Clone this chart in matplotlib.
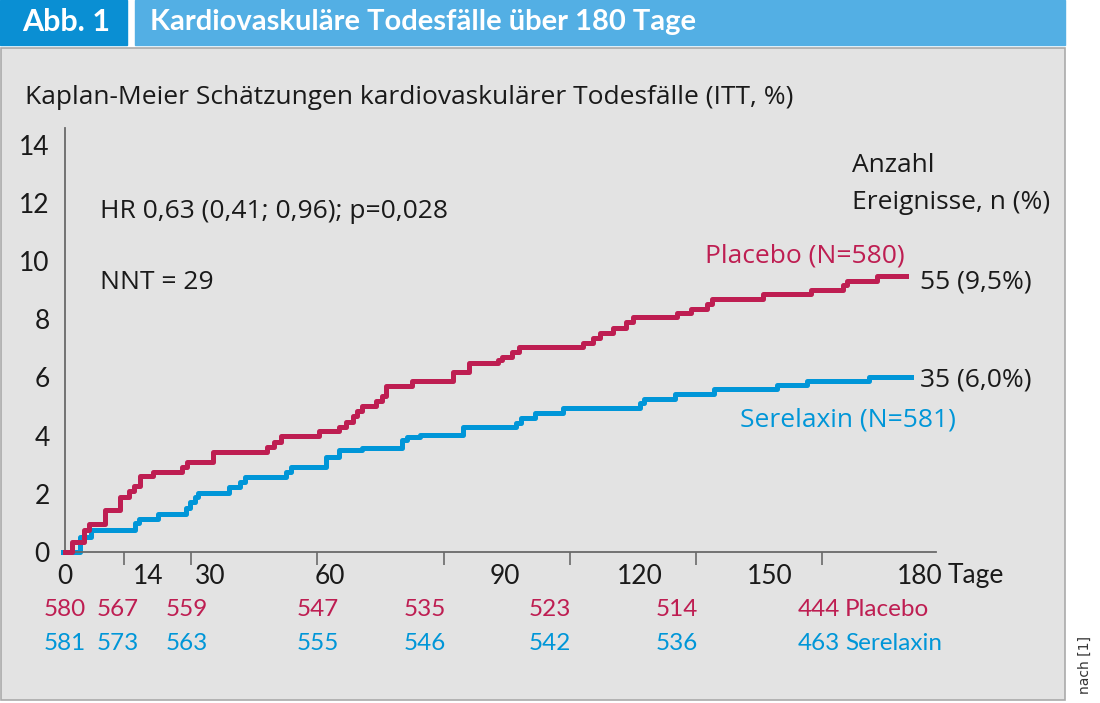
import matplotlib.pyplot as plt
from matplotlib.patches import Rectangle

plt.rcParams['font.family'] = ['Lato', 'DejaVu Sans']

RED = '#BE1E52'
BLUE = '#0096D8'
PANEL = '#E3E3E3'
INK = '#1A1A1A'
BODY = ['Open Sans', 'DejaVu Sans']
BODY_SIZE = 19
W, H = 1100, 703

# Kaplan-Meier estimates, cumulative CV deaths in % (day of event, value after the step)
placebo_days = [0, 1.6, 4.5, 5.8, 9.5, 13.0, 15.3, 16.4, 17.8, 21.0, 27.9, 29.0, 35.2,
                48.0, 49.7, 51.3, 60.4, 65.2, 66.9, 68.4, 69.5, 70.5, 73.9, 75.3, 76.3,
                82.4, 92.3, 96.1, 103.0, 103.8, 106.2, 108.0, 123.2, 125.4, 127.1, 130.3,
                133.3, 134.9, 145.4, 148.7, 152.5, 153.7, 165.8, 177.4, 185.0, 185.8, 192.9]
placebo_pct = [0, 0.32, 0.75, 0.96, 1.42, 1.88, 2.10, 2.26, 2.61, 2.74, 2.91, 3.09, 3.43,
               3.61, 3.78, 3.98, 4.15, 4.28, 4.48, 4.67, 4.84, 5.02, 5.20, 5.36, 5.70,
               5.89, 6.20, 6.49, 6.60, 6.71, 6.88, 7.06, 7.19, 7.37, 7.54, 7.69,
               7.90, 8.07, 8.21, 8.34, 8.52, 8.69, 8.86, 9.01, 9.18, 9.33, 9.50]
placebo_last_day = 199.8

serelaxin_days = [-0.5, 3.6, 6.2, 16.6, 17.6, 22.2, 28.8, 29.6, 30.8, 31.7, 39.0, 41.6, 42.8,
                  52.6, 53.6, 62.1, 65.2, 70.5, 80.0, 81.2, 84.4, 94.5, 107.2, 108.3, 111.7,
                  118.3, 136.6, 137.6, 145.0, 154.2, 169.1, 176.3, 191.1]
serelaxin_pct = [0, 0.50, 0.76, 0.98, 1.14, 1.31, 1.51, 1.70, 1.88, 2.02, 2.22, 2.41, 2.56,
                 2.75, 2.93, 3.26, 3.50, 3.56, 3.85, 3.96, 4.02, 4.28, 4.42, 4.61, 4.78,
                 4.96, 5.11, 5.25, 5.42, 5.59, 5.74, 5.89, 6.00]
serelaxin_last_day = 201.0

tick_days = [14, 30, 60, 90, 120, 150, 180]
day_labels = ['0', '14', '30', '60', '90', '120', '150', '180']
y_ticks = [0, 2, 4, 6, 8, 10, 12, 14]

risk_placebo = [580, 567, 559, 547, 535, 523, 514, 444]
risk_serelaxin = [581, 573, 563, 555, 546, 542, 536, 463]

# layout (pixel positions of the free text in the picture)
day_label_px = [65, 148, 210, 330, 505, 640, 770, 920]
risk_px = [65, 118, 187, 318, 425, 550, 677, 819]


def fx(x):
    return x / W


def fy(y):
    return 1 - y / H


def body(x, y, s, color=INK, ha='left'):
    fig.text(fx(x), fy(y), s, fontsize=BODY_SIZE, ha=ha, va='center', color=color,
             family=BODY)


fig = plt.figure(figsize=(W / 100, H / 100), dpi=100)
fig.patch.set_facecolor('white')

# header boxes and grey panel
fig.add_artist(Rectangle((fx(0), fy(45)), fx(127), 45 / H, color='#0A8FD3',
                         transform=fig.transFigure, zorder=0))
fig.add_artist(Rectangle((fx(135), fy(45)), fx(930), 45 / H, color='#53AFE4',
                         transform=fig.transFigure, zorder=0))
fig.add_artist(Rectangle((fx(1), fy(700)), fx(1064), 652 / H, facecolor=PANEL,
                         edgecolor='#AAAAAA', linewidth=1.2,
                         transform=fig.transFigure, zorder=0))
fig.text(fx(66), fy(22), 'Abb. 1', color='white', fontsize=22, fontweight='bold',
         ha='center', va='center')
fig.text(fx(150), fy(22), 'Kardiovaskuläre Todesfälle über 180 Tage', color='white',
         fontsize=21, fontweight='bold', ha='left', va='center')

ax = fig.add_axes([fx(65), fy(551.7), fx(871), (551.7 - 128) / H])
ax.patch.set_alpha(0)

ax.step(placebo_days + [placebo_last_day], placebo_pct + [placebo_pct[-1]],
        where='post', color=RED, linewidth=3.6, clip_on=False, zorder=3)
ax.step(serelaxin_days + [serelaxin_last_day], serelaxin_pct + [serelaxin_pct[-1]],
        where='post', color=BLUE, linewidth=3.6, clip_on=False, zorder=2)

ax.set_xlim(0, 207)
ax.set_ylim(0, (551.7 - 128) / 29.05)
for s in ['top', 'right']:
    ax.spines[s].set_visible(False)
for s in ['left', 'bottom']:
    ax.spines[s].set_color('#6A6A6A')
    ax.spines[s].set_linewidth(1.3)

ax.set_xticks(tick_days)
ax.set_xticklabels([])
ax.tick_params(axis='x', direction='out', length=9, width=1.2, color='#6A6A6A')
ax.set_yticks(y_ticks)
ax.set_yticklabels([str(v) for v in y_ticks], fontsize=19, color=INK)
ax.tick_params(axis='y', length=0, pad=11)

# day labels and numbers at risk
for lab, px in zip(day_labels, day_label_px):
    fig.text(fx(px), fy(576), lab, fontsize=19, ha='center', va='center', color=INK)
fig.text(fx(948), fy(576), 'Tage', fontsize=19, ha='left', va='center', color=INK)

for n_p, n_s, px in zip(risk_placebo, risk_serelaxin, risk_px):
    fig.text(fx(px), fy(610), str(n_p), fontsize=17.5, ha='center', va='center', color=RED)
    fig.text(fx(px), fy(643), str(n_s), fontsize=17.5, ha='center', va='center', color=BLUE)
fig.text(fx(845), fy(610), 'Placebo', fontsize=17.5, ha='left', va='center', color=RED)
fig.text(fx(845), fy(643), 'Serelaxin', fontsize=17.5, ha='left', va='center', color=BLUE)

# annotations
body(25, 97, 'Kaplan-Meier Schätzungen kardiovaskulärer Todesfälle (ITT, %)')
body(100, 212, 'HR 0,63 (0,41; 0,96); p=0,028')
body(100, 283, 'NNT = 29')
body(852, 165, 'Anzahl')
body(852, 203, 'Ereignisse, n (%)')
body(905, 256, 'Placebo (N=580)', color=RED, ha='right')
body(920, 282, '55 (9,5%)')
body(920, 380, '35 (6,0%)')
body(740, 420, 'Serelaxin (N=581)', color=BLUE)

fig.text(fx(1085), fy(665), 'nach [1]', fontsize=10, rotation=90, ha='center', va='center',
         color='#333333', family='DejaVu Sans')

fig.savefig('out.png', dpi=100, facecolor='white')
